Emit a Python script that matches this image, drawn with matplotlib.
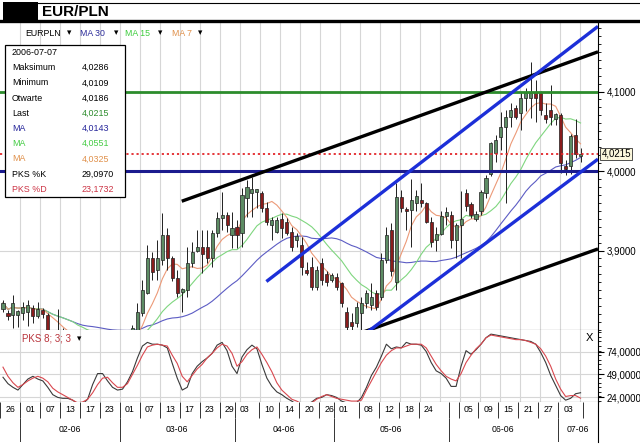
import numpy as np
import pandas as pd
import matplotlib

matplotlib.use('Agg')  # headless

import matplotlib.pyplot as plt
from matplotlib.patches import Rectangle
from matplotlib.lines import Line2D
from matplotlib.ticker import FixedLocator, MultipleLocator, FuncFormatter, NullLocator

plt.rcParams['font.family'] = ['Liberation Sans', 'DejaVu Sans']

# sessions on the chart (every weekday 26 Jan - 7 Jul 2006)
dates = pd.bdate_range('2006-01-26', '2006-07-07')

opens = [3.826, 3.822, 3.819, 3.819, 3.822, 3.823, 3.828, 3.818, 3.825, 3.819, 3.795, 3.788, 3.792,
         3.790, 3.782, 3.776, 3.770, 3.775, 3.786, 3.792, 3.785, 3.780, 3.777, 3.781, 3.789,
         3.795, 3.797, 3.800, 3.822, 3.847, 3.890, 3.875, 3.888, 3.920, 3.890, 3.866, 3.848,
         3.850, 3.884, 3.899, 3.905, 3.904, 3.891, 3.922, 3.941, 3.945, 3.920, 3.930, 3.922,
         3.966, 3.972, 3.974, 3.972, 3.953, 3.932, 3.923, 3.940, 3.936, 3.923, 3.913, 3.907,
         3.876, 3.879, 3.854, 3.884, 3.870, 3.863, 3.867, 3.859, 3.823, 3.810, 3.809, 3.822,
         3.834, 3.831, 3.847, 3.841, 3.888, 3.926, 3.860, 3.967, 3.952, 3.951, 3.960, 3.963,
         3.960, 3.936, 3.913, 3.921, 3.944, 3.945, 3.913, 3.932, 3.972, 3.958, 3.940, 3.950,
         3.972, 3.996, 4.023, 4.043, 4.055, 4.068, 4.079, 4.073, 4.092, 4.092, 4.099, 4.098,
         4.070, 4.077, 4.066, 4.070, 4.006, 4.006, 4.045, 4.0186]
highs = [3.838, 3.825, 3.844, 3.825, 3.835, 3.838, 3.832, 3.835, 3.828, 3.821, 3.799, 3.827, 3.803,
         3.796, 3.788, 3.781, 3.779, 3.790, 3.796, 3.797, 3.790, 3.786, 3.784, 3.792, 3.798,
         3.800, 3.806, 3.834, 3.863, 3.907, 3.898, 3.913, 3.947, 3.928, 3.893, 3.876, 3.853,
         3.904, 3.911, 3.926, 3.926, 3.926, 3.926, 3.948, 3.974, 3.948, 3.948, 3.938, 3.979,
         3.989, 3.992, 3.978, 3.975, 3.961, 3.942, 3.942, 3.947, 3.941, 3.930, 3.922, 3.917,
         3.886, 3.892, 3.880, 3.890, 3.874, 3.872, 3.872, 3.860, 3.829, 3.821, 3.835, 3.841,
         3.850, 3.859, 3.850, 3.897, 3.930, 3.935, 3.985, 3.976, 3.955, 3.990, 3.976, 3.985,
         3.961, 3.942, 3.930, 3.950, 3.955, 3.950, 3.935, 3.975, 3.977, 3.961, 3.950, 3.976,
         3.995, 4.036, 4.045, 4.074, 4.077, 4.085, 4.083, 4.099, 4.105, 4.137, 4.114, 4.101,
         4.085, 4.108, 4.073, 4.073, 4.014, 4.047, 4.066, 4.0286]
lows = [3.823, 3.813, 3.803, 3.804, 3.813, 3.805, 3.809, 3.815, 3.815, 3.790, 3.782, 3.780, 3.785,
        3.778, 3.772, 3.765, 3.764, 3.771, 3.780, 3.781, 3.775, 3.772, 3.770, 3.776, 3.783,
        3.788, 3.794, 3.797, 3.817, 3.845, 3.863, 3.863, 3.882, 3.876, 3.862, 3.842, 3.823,
        3.842, 3.879, 3.898, 3.872, 3.884, 3.879, 3.917, 3.926, 3.923, 3.903, 3.903, 3.904,
        3.942, 3.942, 3.953, 3.948, 3.932, 3.913, 3.922, 3.916, 3.919, 3.900, 3.904, 3.869,
        3.869, 3.850, 3.850, 3.857, 3.855, 3.860, 3.850, 3.829, 3.800, 3.800, 3.804, 3.797,
        3.828, 3.825, 3.825, 3.838, 3.884, 3.868, 3.850, 3.948, 3.926, 3.904, 3.950, 3.955,
        3.934, 3.905, 3.900, 3.919, 3.932, 3.903, 3.890, 3.890, 3.950, 3.941, 3.937, 3.945,
        3.966, 3.994, 4.011, 4.026, 3.960, 4.055, 4.065, 4.052, 4.075, 4.067, 4.062, 4.070,
        4.060, 4.058, 4.058, 3.997, 3.995, 3.996, 4.017, 4.0109]
closes = [3.834, 3.818, 3.834, 3.824, 3.829, 3.832, 3.818, 3.826, 3.820, 3.795, 3.788, 3.792, 3.790,
          3.782, 3.776, 3.770, 3.775, 3.786, 3.792, 3.785, 3.780, 3.777, 3.781, 3.789, 3.795,
          3.797, 3.803, 3.823, 3.850, 3.890, 3.873, 3.891, 3.920, 3.891, 3.866, 3.847, 3.851,
          3.884, 3.898, 3.905, 3.895, 3.891, 3.922, 3.941, 3.945, 3.932, 3.928, 3.920, 3.970,
          3.980, 3.978, 3.977, 3.953, 3.936, 3.938, 3.938, 3.928, 3.922, 3.904, 3.918, 3.879,
          3.872, 3.854, 3.875, 3.863, 3.860, 3.869, 3.854, 3.834, 3.804, 3.805, 3.829, 3.834,
          3.847, 3.841, 3.829, 3.888, 3.920, 3.874, 3.967, 3.953, 3.950, 3.964, 3.968, 3.960,
          3.936, 3.911, 3.921, 3.944, 3.948, 3.913, 3.932, 3.940, 3.956, 3.945, 3.946, 3.974,
          3.991, 4.035, 4.039, 4.055, 4.068, 4.077, 4.068, 4.092, 4.098, 4.098, 4.092, 4.077,
          4.065, 4.068, 4.072, 4.010, 4.002, 4.044, 4.022, 4.0215]

# PKS 8;3;3 (stochastic)
stoch_k = [46, 39, 35, 32, 38, 44, 47, 44, 42, 35, 27, 24, 23, 23, 21, 17, 17, 22, 38, 50,
           50, 42, 35, 32, 33, 41, 52, 67, 80, 84, 82, 82, 81, 78, 61, 45, 32, 35, 50, 58,
           63, 67, 72, 81, 84, 75, 58, 50, 68, 76, 81, 77, 60, 45, 36, 30, 27, 23, 20, 16,
           16, 16, 19, 23, 24, 27, 26, 24, 20, 18, 16, 18, 24, 35, 48, 57, 69, 82, 77, 79,
           78, 84, 82, 82, 81, 74, 62, 53, 50, 45, 36, 36, 58, 75, 71, 76, 82, 89, 93, 92,
           91, 90, 89, 88, 87, 86, 85, 82, 73, 62, 48, 37, 26, 21, 23, 28, 29.097]
stoch_d = [57, 47, 40, 35, 38, 42, 45, 47, 45, 41, 34, 30, 27, 24, 21, 18, 19, 22, 29, 38,
           45, 46, 40, 35, 35, 39, 49, 59, 70, 79, 81, 82, 81, 80, 70, 61, 47, 41, 48, 55,
           60, 67, 72, 78, 82, 80, 72, 58, 63, 71, 76, 79, 71, 62, 52, 40, 32, 27, 22, 20,
           17, 16, 18, 22, 25, 27, 25, 23, 22, 21, 20, 20, 21, 32, 42, 52, 62, 70, 75, 78,
           78, 80, 82, 82, 82, 78, 69, 60, 53, 47, 44, 42, 50, 62, 70, 77, 82, 89, 92, 91,
           90, 89, 88, 87, 87, 86, 84, 82, 77, 69, 58, 44, 33, 25, 26, 26, 23.173]

ma_periods = [30, 15, 7]
levels = [4.0, 4.1]
# hand-drawn trend lines: (start index, start price, end index, end price)
black_lines = [(35.9, 3.962, 119.5, 4.150), (71.7, 3.796, 119.5, 3.902)]
blue_lines = [(52.9, 3.861, 119.5, 4.182), (73.1, 3.797, 119.5, 4.015)]

day_ticks = ['2006-01-26', '2006-02-01', '2006-02-07', '2006-02-13', '2006-02-17', '2006-02-23',
             '2006-03-01', '2006-03-07', '2006-03-13', '2006-03-17', '2006-03-23', '2006-03-29',
             '2006-04-03', '2006-04-10', '2006-04-14', '2006-04-20', '2006-04-26',
             '2006-05-01', '2006-05-08', '2006-05-12', '2006-05-18', '2006-05-24',
             '2006-06-05', '2006-06-09', '2006-06-15', '2006-06-21', '2006-06-27', '2006-07-03']
month_labels = ['02-06', '03-06', '04-06', '05-06', '06-06', '07-06']

info_date = '2006-07-07'
info_names = ['Maksimum', 'Minimum', 'Otwarte', 'Last', 'MA', 'MA', 'MA', 'PKS %K', 'PKS %D']
info_values = ['4,0286', '4,0109', '4,0186', '4,0215', '4,0143', '4,0551', '4,0325', '29,0970', '23,1732']

W, H = 640.0, 445.0


def box(x0, y0, x1, y1):
    return [x0 / W, 1 - y1 / H, (x1 - x0) / W, (y1 - y0) / H]


def fx(v):
    return v / W


def fy(v):
    return 1 - v / H


def comma4(v, pos=None):
    return ('%.4f' % v).replace('.', ',')


navy = '#25259a'
ma_colors = ['#5c5cc4', '#7fd67f', '#ec9a78']
grid_col = '#d6d6d6'

fig = plt.figure(figsize=(6.4, 4.45), dpi=100)
fig.patch.set_facecolor('white')

ax = fig.add_axes(box(0, 22, 598, 330))
ax_k = fig.add_axes(box(0, 330, 598, 402))
ax_d = fig.add_axes(box(0, 402, 598, 442))

x = np.arange(len(dates))
xlim = (-0.6, 119.5)
grid_x = np.arange(3.4, 119.5, 4.02)

o = np.array(opens)
h = np.array(highs)
l = np.array(lows)
c = np.array(closes)

# ---- price panel
ax.set_xlim(*xlim)
ax.set_ylim(3.80, 4.1875)
for g in grid_x:
    ax.axvline(g, color=grid_col, lw=0.8, zorder=0)
for g in [3.9, 4.0, 4.1]:
    ax.axhline(g, color=grid_col, lw=0.8, zorder=0)

close_s = pd.Series(closes)
for n, col in zip(ma_periods, ma_colors):
    ax.plot(x, close_s.rolling(n, min_periods=1).mean(), color=col, lw=0.8, zorder=2)

ax.vlines(x, l, h, color='#202020', lw=0.7, zorder=3)
body_lo = np.minimum(o, c)
body_h = np.maximum(np.abs(c - o), 0.0012)
face = np.where(np.abs(c - o) < 0.0015, 'white', np.where(c > o, '#5d8c64', '#8a1c1c'))
ax.bar(x, body_h, bottom=body_lo, width=0.62, color=list(face),
       edgecolor='#202020', linewidth=0.5, zorder=4)

ax.axhline(levels[0], color='#1b1b8e', lw=2.2, zorder=5)
ax.axhline(levels[1], color='#2c8c2c', lw=2.0, zorder=5)
ax.axhline(closes[-1], color='#e3262a', lw=1.3, ls=(0, (1.2, 1.6)), zorder=5)
for x0, y0, x1, y1 in black_lines:
    ax.plot([x0, x1], [y0, y1], color='black', lw=2.4, zorder=6, solid_capstyle='butt')
for x0, y0, x1, y1 in blue_lines:
    ax.plot([x0, x1], [y0, y1], color='#1c2fd8', lw=2.4, zorder=6, solid_capstyle='butt')

for s in ['left', 'top']:
    ax.spines[s].set_visible(False)
ax.xaxis.set_major_locator(NullLocator())
ax.yaxis.tick_right()
ax.yaxis.set_major_locator(FixedLocator([3.9, 4.0, 4.1]))
ax.yaxis.set_minor_locator(MultipleLocator(0.01))
ax.yaxis.set_major_formatter(FuncFormatter(comma4))
ax.tick_params(axis='y', which='major', length=4, width=0.8, labelsize=7, pad=2)
ax.tick_params(axis='y', which='minor', length=2, width=0.6)
ax.text(1.006, closes[-1], comma4(closes[-1]), transform=ax.get_yaxis_transform(),
        fontsize=7, va='center', ha='left', zorder=10, clip_on=False,
        bbox=dict(boxstyle='square,pad=0.12', fc='#fbf7dc', ec='#333333', lw=0.6))

# ---- stochastic panel
ax_k.set_xlim(*xlim)
ax_k.set_ylim(19, 97.5)
for g in grid_x:
    ax_k.axvline(g, color=grid_col, lw=0.8, zorder=0)
for g in [24, 49, 74]:
    ax_k.axhline(g, color=grid_col, lw=0.8, zorder=0)
ax_k.plot(x, stoch_k, color='#3a3a3a', lw=0.8, zorder=3)
ax_k.plot(x, stoch_d, color='#d9484f', lw=0.8, zorder=3)
for s in ['left', 'top']:
    ax_k.spines[s].set_visible(False)
ax_k.xaxis.set_major_locator(NullLocator())
ax_k.yaxis.tick_right()
ax_k.yaxis.set_major_locator(FixedLocator([24, 49, 74]))
ax_k.yaxis.set_minor_locator(MultipleLocator(5))
ax_k.yaxis.set_major_formatter(FuncFormatter(comma4))
ax_k.tick_params(axis='y', which='major', length=4, width=0.8, labelsize=7, pad=2)
ax_k.tick_params(axis='y', which='minor', length=2, width=0.6)

# ---- date strip
ax_d.set_xlim(*xlim)
ax_d.set_ylim(0, 1)
for s in ['left', 'top', 'bottom']:
    ax_d.spines[s].set_visible(False)
ax_d.set_xticks([])
ax_d.set_yticks([])
day_pos = [dates.get_loc(pd.Timestamp(d)) for d in day_ticks]
month_start = [i for i in range(1, len(dates)) if dates[i].month != dates[i - 1].month]
day_edges = sorted(set([p - 0.5 for p in day_pos] + [m - 0.5 for m in month_start] + [len(dates) - 0.5]))
ax_d.vlines(day_edges, 0.6, 1, color='#333333', lw=0.7)
month_edges = [m - 0.5 for m in month_start]
ax_d.vlines(month_edges, 0, 0.6, color='#333333', lw=0.7)
for p, d in zip(day_pos, day_ticks):
    ax_d.text(p + 0.5, 0.8, d[-2:], fontsize=6.3, ha='left', va='center')
bounds = month_edges + [xlim[1]]
for k, lab in enumerate(month_labels):
    ax_d.text((bounds[k] + bounds[k + 1]) / 2, 0.3, lab, fontsize=6.3, ha='center', va='center')

# ---- title bar
fig.add_artist(Rectangle((fx(3), fy(19.5)), fx(38) - fx(3), fy(2) - fy(19.5),
                         transform=fig.transFigure, fc='black', ec='none'))
fig.add_artist(Line2D([fx(38), 1], [fy(2.5), fy(2.5)], transform=fig.transFigure, color='black', lw=0.8))
fig.add_artist(Line2D([0, 1], [fy(21), fy(21)], transform=fig.transFigure, color='black', lw=2.4))
fig.text(fx(42), fy(12), 'EUR/PLN', fontsize=11, fontweight='bold', va='center')

# toolbar inside the price panel
toolbar = [('EURPLN', 25, 'black'), ('\u25be', 67, 'black'), ('MA 30', 80, '#2b2b9a'),
           ('\u25be', 114, 'black'), ('MA 15', 125, '#3ccc3c'), ('\u25be', 158, 'black'),
           ('MA 7', 172, '#e0904a'), ('\u25be', 198, 'black')]
for txt, px, col in toolbar:
    fig.text(fx(px), fy(33), txt, color=col, fontsize=6.3, va='center', zorder=11)

fig.text(fx(22), fy(338.5), 'PKS 8; 3; 3', color='#b8323a', fontsize=7, va='center', zorder=11)
fig.text(fx(77), fy(338.5), '\u25be', color='black', fontsize=6.3, va='center', zorder=11)
fig.text(fx(586), fy(338), 'X', color='black', fontsize=8, va='center', zorder=11)

# ---- info box
fig.add_artist(Rectangle((fx(5), fy(197)), fx(125) - fx(5), fy(45) - fy(197),
                         transform=fig.transFigure, fc='white', ec='black', lw=0.9, zorder=10))
name_cols = ['black', 'black', 'black', 'black', navy, '#44cc44', '#e0904a', 'black', '#cc3344']
val_cols = ['black', 'black', 'black', '#2c8c2c', navy, '#44cc44', '#e0904a', 'black', '#cc3344']
fig.text(fx(12), fy(52.5), info_date, fontsize=6.4, va='center', zorder=11)
for k, (nm, val) in enumerate(zip(info_names, info_values)):
    yy = 67.7 + 15.2 * k
    fig.text(fx(12), fy(yy), nm, color=name_cols[k], fontsize=6.4, va='center', zorder=11)
    fig.text(fx(82), fy(yy), val, color=val_cols[k], fontsize=6.4, va='center', zorder=11)

fig.savefig('out.png', dpi=100)
